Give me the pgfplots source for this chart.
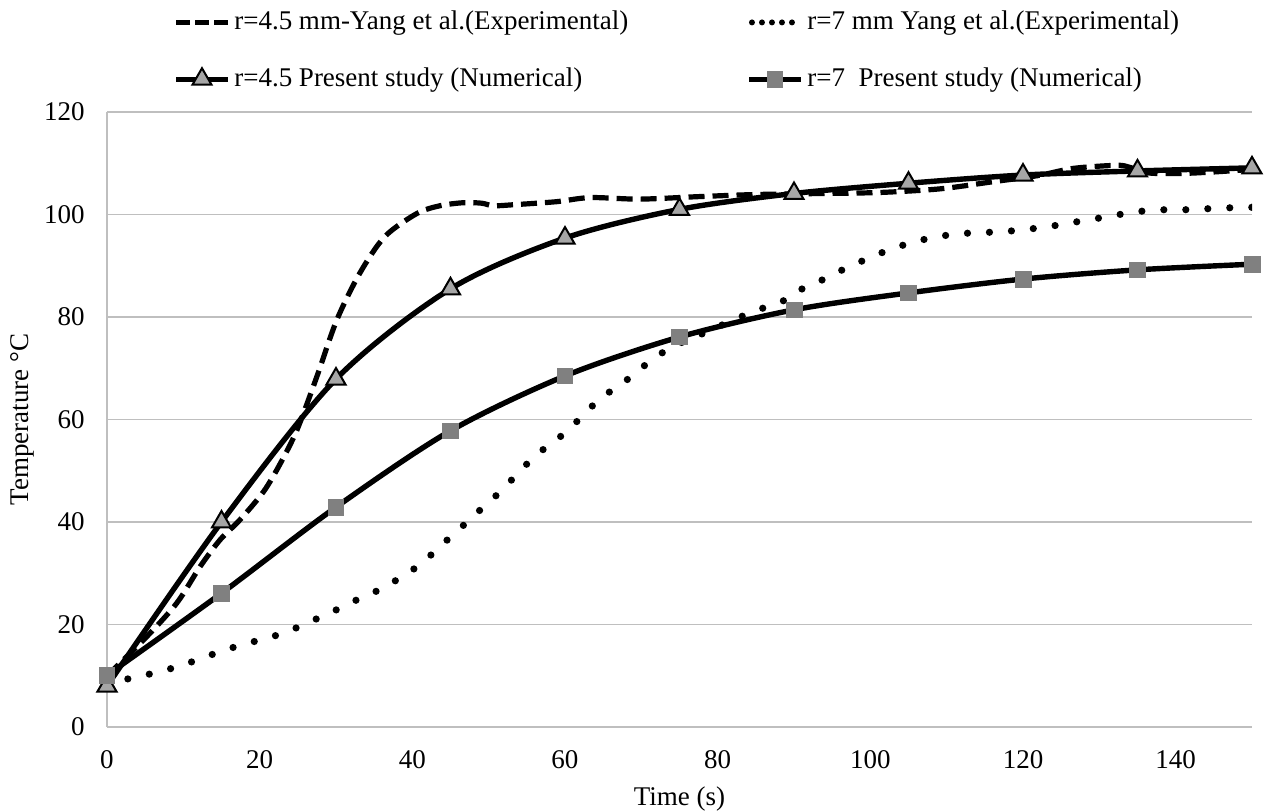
\documentclass[border=0pt]{standalone}
\usepackage{fontspec}
\setmainfont{Liberation Serif}
\usepackage{pgfplots}
\pgfplotsset{compat=1.18}

\definecolor{gridgray}{RGB}{191,191,191}
\definecolor{trifill}{RGB}{166,166,166}
\definecolor{sqfill}{RGB}{128,128,128}

\begin{document}
\fontsize{13.5}{16}\selectfont
\begin{tikzpicture}
\begin{axis}[
    name=ax,
    scale only axis,
    width=572.5pt, height=307.5pt,
    xmin=0, xmax=150, ymin=0, ymax=120,
    xtick={0,20,...,140}, ytick={0,20,...,120},
    axis x line*=bottom, axis y line*=left,
    axis line style={gridgray, line width=0.8pt, -},
    ymajorgrids,
    grid style={gridgray, line width=0.8pt},
    major tick length=0pt,
    tick label style={font=\fontsize{13.5}{16}\selectfont},
    /pgf/number format/assume math mode=true,
    yticklabel style={xshift=-6.5pt},
    xticklabel style={yshift=-7pt},
    xlabel={Time (s)},
    ylabel={Temperature °C},
    every axis x label/.style={at={(axis description cs:0.5,-0.117)}, anchor=center},
    every axis y label/.style={at={(axis description cs:-0.074,0.5)}, anchor=center, rotate=90},
    legend columns=2,
    legend cell align=left,
    legend style={draw=none, fill=none, at={(0.499,1)}, anchor=south, yshift=6.5pt,
        font=\fontsize{13.5}{16}\selectfont, row sep=13pt,
        /tikz/every even column/.append style={column sep=57pt}},
    legend image code/.code={\draw[mark repeat=2,mark phase=2,#1]
        plot coordinates {(0cm,0cm) (0.45cm,0cm) (0.9cm,0cm)};},
]

% r=4.5 mm, Yang et al. (experimental)
\addplot[black, line width=2.6pt, dash pattern=on 8pt off 4pt, smooth,
    legend image code/.code={\draw[black, line width=2.7pt, dash pattern=on 7pt off 2.5pt]
        (0cm,0cm) -- (0.9cm,0cm);}] coordinates {
    (0,10) (4.8,17.0) (9.1,24.1) (12.2,31.3) (14.8,36.5) (17.4,40.4) (20.5,45.9)
    (22.7,51.4) (24.9,58.0) (27.5,68.4) (30.1,79.4) (33.1,88.5) (36.4,95.7)
    (40.6,100.2) (43.6,101.7) (46.7,102.3) (49.1,102.2) (50.6,101.7) (53.2,101.9)
    (58.9,102.5) (63.3,103.3) (69.8,103.0) (77.7,103.5) (85,103.9) (93.8,104.1)
    (101.3,104.3) (109.1,105.0) (116.1,106.4) (122,107.6) (126.6,109.0)
    (132.3,109.6) (134,109.2) (136.5,108.1) (140.6,108.0) (145,108.3) (150,108.8)};
\addlegendentry{r=4.5 mm-Yang et al.(Experimental)}

% r=7 mm, Yang et al. (experimental)
\addplot[black, line width=3.6pt, line cap=round, dash pattern=on 0pt off 11pt, smooth,
    legend image code/.code={\draw[black, line width=3pt, line cap=round, dash pattern=on 0pt off 5pt]
        (0.05cm,0cm) -- (0.9cm,0cm);}] coordinates {
    (0,8) (3,9.5) (6.1,10.5) (9.3,11.8) (12.4,13.4) (15.2,14.9) (18.3,16.3)
    (21.4,17.5) (24.4,19.1) (27.3,21.0) (30.1,22.9) (33,25) (36,27) (38.6,29.3)
    (41.2,31.9) (43.6,35.2) (46,38.4) (48.4,41.7) (50.8,44.9) (53,48.2) (55.2,51.6)
    (57.6,54.7) (60.2,57.6) (62.4,60.9) (64.8,64.3) (67.4,66.9) (69.8,69.8)
    (72.4,72.7) (75.1,74.9) (78.1,76.8) (82.5,79.7) (85.5,81.5) (88.4,83.0)
    (91.2,85.6) (94.1,87.5) (96.9,89.6) (100,91.6) (102.8,93.3) (105.9,94.7)
    (108.9,95.7) (112.2,96.3) (115.2,96.5) (118.5,96.8) (121.6,97.3) (124.9,98.0)
    (127.9,98.8) (131.2,99.6) (134.2,100.4) (137.5,100.9) (140.6,100.9)
    (143.8,101.1) (146.9,101.3) (150,101.4)};
\addlegendentry{r=7 mm Yang et al.(Experimental)}

% r=4.5, present study (numerical)
\addplot[black, line width=2.7pt, smooth, mark=triangle*, mark size=5.5pt,
    mark options={fill=trifill, draw=black, line width=1pt, solid}] coordinates {
    (0,8) (15,40) (30,67.9) (45,85.5) (60,95.4) (75,101.0) (90,104.1)
    (105,106.1) (120,107.7) (135,108.5) (150,109.1)};
\addlegendentry{r=4.5 Present study (Numerical)}

% r=7, present study (numerical)
\addplot[black, line width=2.7pt, smooth, mark=square*, mark size=3.9pt,
    mark options={fill=sqfill, draw=sqfill, line width=0.3pt, solid}] coordinates {
    (0,10.1) (15,26.1) (30,42.9) (45,57.8) (60,68.5) (75,76.1) (90,81.4)
    (105,84.7) (120,87.4) (135,89.2) (150,90.3)};
\addlegendentry{r=7\ \ Present study (Numerical)}

\end{axis}
\pgfresetboundingbox
\path ([shift={(-53.5pt,-41.5pt)}]ax.south west) rectangle ([shift={(9.5pt,56pt)}]ax.north east);
\end{tikzpicture}
\end{document}
